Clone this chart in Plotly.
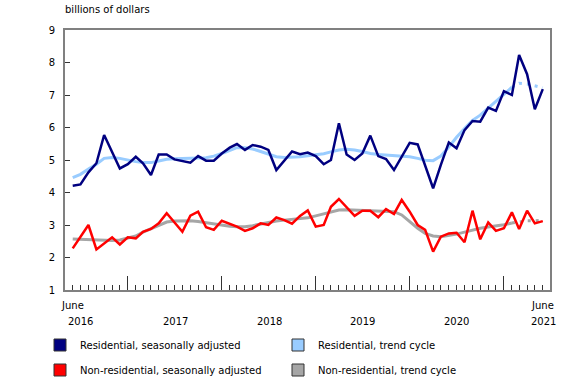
import plotly.graph_objects as go
import pandas as pd

# Monthly, June 2016 to June 2021 (61 months)
months = pd.date_range("2016-06-01", periods=61, freq="MS")

res_sa = [4.21, 4.25, 4.62, 4.90, 5.77, 5.26, 4.74, 4.87, 5.10, 4.90,
          4.54, 5.17, 5.17, 5.02, 4.98, 4.92, 5.12, 4.98, 4.98, 5.20,
          5.38, 5.49, 5.31, 5.46, 5.41, 5.31, 4.69, 4.98, 5.26, 5.18,
          5.23, 5.12, 4.87, 5.00, 6.13, 5.17, 5.00, 5.20, 5.75, 5.12,
          5.03, 4.69, 5.10, 5.53, 5.48, 4.80, 4.13, 4.85, 5.54, 5.36,
          5.92, 6.20, 6.18, 6.61, 6.51, 7.12, 7.00, 8.23, 7.64, 6.56, 7.18]

res_tr = [4.46, 4.56, 4.72, 4.87, 5.05, 5.08, 5.05, 4.99, 4.95, 4.92,
          4.92, 4.97, 5.02, 5.04, 5.04, 5.06, 5.06, 5.07, 5.12, 5.20,
          5.30, 5.38, 5.38, 5.34, 5.26, 5.17, 5.10, 5.08, 5.08, 5.10,
          5.13, 5.15, 5.19, 5.25, 5.31, 5.33, 5.31, 5.26, 5.20, 5.17,
          5.15, 5.13, 5.12, 5.10, 5.05, 4.99, 4.98, 5.12, 5.40, 5.70,
          5.97, 6.22, 6.38, 6.60, 6.79, 7.03, 7.24, 7.36, 7.34, 7.29, 7.22]

nonres_sa = [2.28, 2.64, 3.00, 2.25, 2.44, 2.62, 2.40, 2.62, 2.59, 2.79,
             2.88, 3.05, 3.36, 3.08, 2.79, 3.29, 3.41, 2.93, 2.85, 3.13,
             3.03, 2.95, 2.82, 2.90, 3.05, 3.00, 3.23, 3.15, 3.04, 3.28,
             3.45, 2.95, 3.00, 3.56, 3.80, 3.56, 3.28, 3.44, 3.44, 3.24,
             3.49, 3.34, 3.77, 3.41, 3.00, 2.85, 2.18, 2.64, 2.74, 2.76,
             2.47, 3.44, 2.56, 3.08, 2.82, 2.90, 3.39, 2.88, 3.44, 3.05, 3.12]

nonres_tr = [2.57, 2.56, 2.54, 2.52, 2.51, 2.52, 2.54, 2.59, 2.66, 2.78,
             2.88, 3.00, 3.09, 3.12, 3.13, 3.13, 3.11, 3.07, 3.03, 2.99,
             2.96, 2.95, 2.95, 2.98, 3.03, 3.07, 3.12, 3.15, 3.17, 3.20,
             3.22, 3.28, 3.34, 3.41, 3.46, 3.47, 3.46, 3.45, 3.44, 3.43,
             3.43, 3.41, 3.31, 3.10, 2.90, 2.74, 2.66, 2.64, 2.67, 2.72,
             2.78, 2.85, 2.90, 2.94, 2.97, 3.01, 3.06, 3.10, 3.13, 3.13, 3.15]

series_names = ["Residential, seasonally adjusted", "Residential, trend cycle",
                "Non-residential, seasonally adjusted", "Non-residential, trend cycle"]
y_ticks = [1, 2, 3, 4, 5, 6, 7, 8, 9]
year_labels = ["2017", "2018", "2019", "2020"]

NAVY = "#000080"
LBLUE = "#99ccff"
RED = "#ff0000"
GREY = "#a6a6a6"

SOLID_END = 57  # trend is dotted for the last 4 months

fig = go.Figure()

# trends
for vals, col in [(nonres_tr, GREY), (res_tr, LBLUE)]:
    fig.add_trace(go.Scatter(x=months[:SOLID_END], y=vals[:SOLID_END], mode="lines",
                             line=dict(color=col, width=3), showlegend=False, hoverinfo="skip"))
    fig.add_trace(go.Scatter(x=months[SOLID_END - 1:], y=vals[SOLID_END - 1:], mode="lines",
                             line=dict(color=col, width=3, dash="3px,5px"),
                             showlegend=False, hoverinfo="skip"))

# seasonally adjusted
fig.add_trace(go.Scatter(x=months, y=nonres_sa, mode="lines",
                         line=dict(color=RED, width=2.5), showlegend=False))
fig.add_trace(go.Scatter(x=months, y=res_sa, mode="lines",
                         line=dict(color=NAVY, width=2.5), showlegend=False))

# legend entries (square swatches)
for name, col, lg in [(series_names[0], NAVY, "legend"), (series_names[1], LBLUE, "legend"),
                      (series_names[2], RED, "legend2"), (series_names[3], GREY, "legend2")]:
    fig.add_trace(go.Scatter(x=[None], y=[None], mode="markers", name=name, legend=lg,
                             marker=dict(symbol="square", size=12, color=col,
                                         line=dict(color="#333333", width=1))))

W, H = 580, 385
PL, PR, PT, PB = 65, 550, 30, 290   # plot-area edges in pixels
L, T, R, B = PL, PT, W - PR, H - PB
pw, ph = PR - PL, PB - PT


def px_x(px):
    return (px - PL) / pw


def px_y(py):
    return (PB - py) / ph


def cx(px):
    return px / W


def cy(py):
    return 1 - py / H


fig.update_layout(
    width=W, height=H,
    margin=dict(l=L, r=R, t=T, b=B, autoexpand=False),
    plot_bgcolor="white", paper_bgcolor="white",
    font=dict(family="DejaVu Sans", size=10, color="black"),
    legend=dict(orientation="h", xref="container", yref="container",
                x=cx(40), y=cy(345), xanchor="left", yanchor="middle",
                entrywidth=193, font=dict(size=10), bgcolor="rgba(0,0,0,0)"),
    legend2=dict(orientation="h", xref="container", yref="container",
                 x=cx(40), y=cy(370), xanchor="left", yanchor="middle",
                 entrywidth=193, font=dict(size=10), bgcolor="rgba(0,0,0,0)"),
)

jan_ticks = [m for m in months if m.month == 1]
fig.update_xaxes(
    type="date", range=["2016-05-02", "2021-06-29"],
    showline=True, linecolor="#808080", linewidth=2, mirror=True,
    showgrid=False, zeroline=False, showticklabels=False,
    tickvals=jan_ticks, ticks="inside", ticklen=14, tickcolor="#333333", tickwidth=1,
    minor=dict(tickvals=list(months), ticks="inside", ticklen=5, tickcolor="#333333",
               tickwidth=1, showgrid=False),
)
fig.update_yaxes(
    range=[1, 9], tickvals=y_ticks, ticktext=[str(v) for v in y_ticks],
    showline=True, linecolor="#808080", linewidth=2, mirror=True,
    showgrid=False, zeroline=False,
    ticks="inside", ticklen=5, tickcolor="#333333", tickwidth=1,
    ticklabelstandoff=6,
    tickfont=dict(size=10, color="black"),
)

ann = []
ann.append(dict(text="billions of dollars", xref="paper", yref="paper",
                x=px_x(63), y=px_y(9), xanchor="left", yanchor="middle",
                showarrow=False, font=dict(size=10)))
# x-axis labels
ann.append(dict(text="June", xref="paper", yref="paper", x=px_x(72.5), y=px_y(305),
                xanchor="center", yanchor="middle", showarrow=False))
ann.append(dict(text="2016", xref="paper", yref="paper", x=px_x(80.5), y=px_y(321),
                xanchor="center", yanchor="middle", showarrow=False))
ann.append(dict(text="June", xref="paper", yref="paper", x=px_x(542.5), y=px_y(305),
                xanchor="center", yanchor="middle", showarrow=False))
ann.append(dict(text="2021", xref="paper", yref="paper", x=px_x(543), y=px_y(321),
                xanchor="center", yanchor="middle", showarrow=False))
for lbl, xc in zip(year_labels, [175, 269, 362, 456]):
    ann.append(dict(text=lbl, xref="paper", yref="paper", x=px_x(xc), y=px_y(321),
                    xanchor="center", yanchor="middle", showarrow=False))
fig.update_layout(annotations=ann)

# remove the default page margin so the figure sits at the window's top-left corner
fig.write_html("out.html", config={"displayModeBar": False},
               post_script="document.body.style.margin='0';")
